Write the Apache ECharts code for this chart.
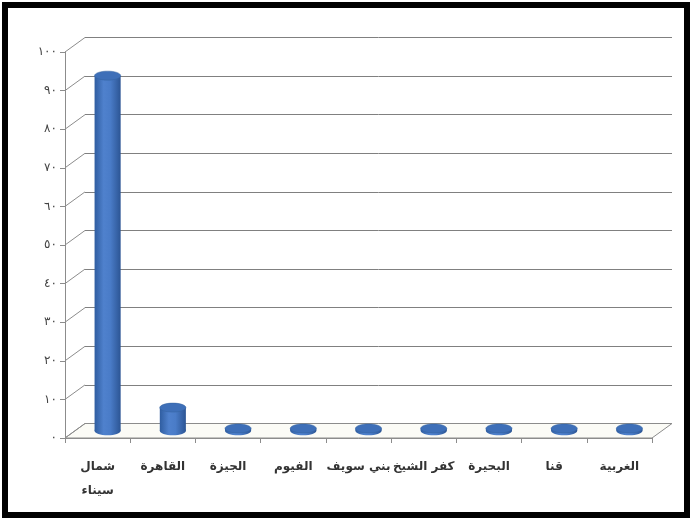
<!DOCTYPE html>
<html>
<head>
<meta charset="utf-8">
<script src="https://cdn.jsdelivr.net/npm/echarts@6/dist/echarts.min.js"></script>
<style>
html,body{margin:0;padding:0;background:#fff;}
#c{width:692px;height:521px;}
</style>
</head>
<body>
<div id="c"></div>
<script>
const categories = ['شمال سيناء', 'القاهرة', 'الجيزة', 'الفيوم', 'بني سويف', 'كفر الشيخ', 'البحيرة', 'قنا', 'الغربية'];
const values = [92, 6, 0.6, 0.6, 0.6, 0.6, 0.6, 0.6, 0.6];
const yTickValues = [0, 10, 20, 30, 40, 50, 60, 70, 80, 90, 100];
const yTickLabels = ['٠', '١٠', '٢٠', '٣٠', '٤٠', '٥٠', '٦٠', '٧٠', '٨٠', '٩٠', '١٠٠'];

const DX = 20, DY = -14.5;
const FONT = 'DejaVu Sans';

const chart = echarts.init(document.getElementById('c'));

function connectorItem(params, api) {
  const cs = params.coordSys;
  const y = api.coord([0, api.value(1)])[1];
  return {
    type: 'line',
    shape: { x1: cs.x, y1: y, x2: cs.x + DX, y2: y + DY },
    style: { stroke: '#8c8c8c', lineWidth: 1 }
  };
}

function floorItem(params, api) {
  const cs = params.coordSys;
  const yb = cs.y + cs.height;
  return {
    type: 'polygon',
    shape: { points: [[cs.x, yb], [cs.x + cs.width, yb], [cs.x + cs.width + DX, yb + DY], [cs.x + DX, yb + DY]] },
    style: { fill: '#fbfbf6', stroke: '#8c8c8c', lineWidth: 1 },
    z2: 0
  };
}

function cylinderItem(params, api) {
  const base = api.coord([api.value(0), 0]);
  const top = api.coord([api.value(0), api.value(1)]);
  const w = api.size([1, 0])[0] * 0.4;
  const rx = w / 2, ry = 4.5;
  const cx = base[0] + DX / 2;
  const yb = base[1] + DY / 2;
  const yt = top[1] + DY / 2;
  const grad = new echarts.graphic.LinearGradient(0, 0, 1, 0, [
    { offset: 0, color: '#2f5da0' },
    { offset: 0.35, color: '#4f81cd' },
    { offset: 0.6, color: '#4a7cc8' },
    { offset: 1, color: '#2c5594' }
  ]);
  return {
    type: 'group',
    children: [
      { type: 'ellipse', shape: { cx: cx, cy: yb, rx: rx, ry: ry }, style: { fill: grad } },
      { type: 'rect', shape: { x: cx - rx, y: yt, width: w, height: Math.max(0, yb - yt) }, style: { fill: grad } },
      { type: 'ellipse', shape: { cx: cx, cy: yt, rx: rx, ry: ry }, style: { fill: '#3e6fb8', stroke: '#35629f', lineWidth: 0.5 } }
    ]
  };
}

const option = {
  animation: false,
  backgroundColor: '#fff',
  graphic: [
    { type: 'rect', shape: { x: 5, y: 5, width: 682, height: 510 }, style: { fill: 'none', stroke: '#000', lineWidth: 6 }, z: 100 }
  ],
  grid: [
    { left: 85, right: 20, top: 37.5, bottom: 97.5 },
    { left: 65, right: 40, top: 52, bottom: 83 }
  ],
  xAxis: [
    { type: 'category', gridIndex: 0, data: categories, show: false },
    {
      type: 'category', gridIndex: 1, data: categories,
      axisLine: { lineStyle: { color: '#8c8c8c' } },
      axisTick: { show: true, alignWithLabel: false, length: 5, lineStyle: { color: '#8c8c8c' } },
      axisLabel: {
        color: '#333', fontFamily: FONT, fontSize: 12, fontWeight: 'bold', margin: 17, interval: 0,
        lineHeight: 24,
        formatter: function (v) { return v === 'شمال سيناء' ? 'شمال\nسيناء' : v; }
      }
    }
  ],
  yAxis: [
    {
      type: 'value', gridIndex: 0, min: 0, max: 100, interval: 10,
      axisLine: { show: false }, axisTick: { show: false }, axisLabel: { show: false },
      splitLine: { show: true, lineStyle: { color: '#808080', width: 1 } }
    },
    {
      type: 'value', gridIndex: 1, min: 0, max: 100, interval: 10,
      axisLine: { show: true, lineStyle: { color: '#8c8c8c' } },
      axisTick: { show: true, length: 5, lineStyle: { color: '#8c8c8c' } },
      splitLine: { show: false },
      axisLabel: {
        color: '#444', fontFamily: FONT, fontSize: 12, margin: 8,
        formatter: function (v) { const i = yTickValues.indexOf(v); return i >= 0 ? yTickLabels[i] : ''; }
      }
    }
  ],
  series: [
    {
      type: 'custom', xAxisIndex: 1, yAxisIndex: 1, renderItem: floorItem,
      data: [[0, 0]], silent: true, z: 1
    },
    {
      type: 'custom', xAxisIndex: 1, yAxisIndex: 1, renderItem: connectorItem,
      data: yTickValues.map(v => [0, v]), silent: true, z: 2
    },
    {
      type: 'custom', xAxisIndex: 1, yAxisIndex: 1, renderItem: cylinderItem,
      data: values.map((v, i) => [i, v]), z: 5
    }
  ]
};
chart.setOption(option);
</script>
</body>
</html>
